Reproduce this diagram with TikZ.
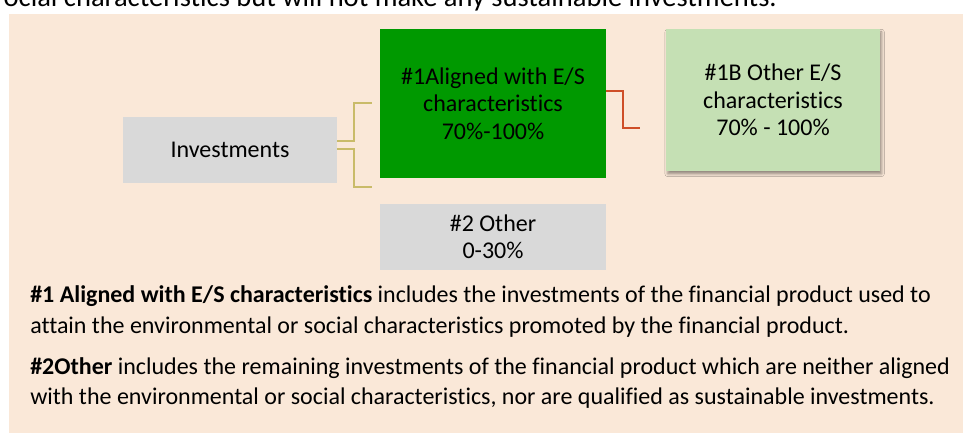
\documentclass[tikz,border=0pt]{standalone}
\usepackage{fontspec}
\setmainfont{Carlito}[Ligatures={NoCommon,NoRare,NoContextual}]
\usetikzlibrary{calc,shadows.blur}
\definecolor{bgpeach}{RGB}{250,232,216}
\definecolor{dgreen}{RGB}{0,153,0}
\definecolor{lgreen}{RGB}{197,224,180}
\definecolor{boxgrey}{RGB}{217,217,217}
\definecolor{goldc}{RGB}{201,187,105}
\definecolor{redc}{RGB}{206,78,40}
\tikzset{
  box/.style={rectangle, inner sep=0pt, align=center, text=black,
    font=\fontsize{18}{20.6}\selectfont},
  bodyline/.style={anchor=base west, inner sep=0pt, text=black,
    font=\fontsize{18}{22}\selectfont},
  goldline/.style={draw=goldc, line width=1.1pt},
  redline/.style={draw=redc, line width=1.5pt},
}
\begin{document}
\begin{tikzpicture}[x=0.75pt,y=-0.75pt]
\clip (0,0) rectangle (963,433);
\useasboundingbox (0,0) rectangle (963,433);
\fill[bgpeach] (9,14) rectangle (963,433);
% cut-off heading line
\node[anchor=base east, inner sep=0pt, text=black, font=\fontsize{21.4}{25}\selectfont]
  (head) at (777,6) {ocial characteristics but will not make any sustainable investments.};
% boxes
\node[box, fill=boxgrey, minimum width=160.5pt, minimum height=49.5pt] (inv) at (230,150) {Investments};
\node[box, fill=dgreen, minimum width=169.5pt, minimum height=111.75pt] (al) at (493,103.5)
  {\#1Aligned with E/S\\characteristics\\70\%-100\%};
\node[box, fill=lgreen, minimum width=160.5pt, minimum height=106.5pt,
  blur shadow={shadow xshift=1.2pt, shadow yshift=-2.2pt, shadow blur radius=2pt, shadow opacity=40}]
  (oes) at (773,100) {\#1B Other E/S\\characteristics\\70\% - 100\%};
\node[box, fill=boxgrey, minimum width=169.5pt, minimum height=49.5pt] (oth) at (493,237)
  {\#2 Other\\0-30\%};
% connector free ends
\coordinate (e1) at (372,103);
\coordinate (e2) at (372,187);
\coordinate (e3) at (640,128);
\draw[goldline] ([yshift=6.75pt]inv.east) -| ($(e1)+(-18,0)$) -- (e1);
\draw[goldline] ([yshift=0.75pt]inv.east) -| ($(e2)+(-18,0)$) -- (e2);
\draw[redline] ([yshift=9.4pt]al.east) -| ($(e3)+(-17,0)$) -- (e3);
% explanatory text
\node[bodyline] (t1) at (30,302) {\textbf{\#1 Aligned with E/S characteristics} includes the investments of the financial product used to};
\node[bodyline] (t2) at (30,333) {attain the environmental or social characteristics promoted by the financial product.};
\node[bodyline] (t3) at (30,374) {\textbf{\#2Other} includes the remaining investments of the financial product which are neither aligned};
\node[bodyline] (t4) at (30,404) {with the environmental or social characteristics, nor are qualified as sustainable investments.};
\end{tikzpicture}
\end{document}
